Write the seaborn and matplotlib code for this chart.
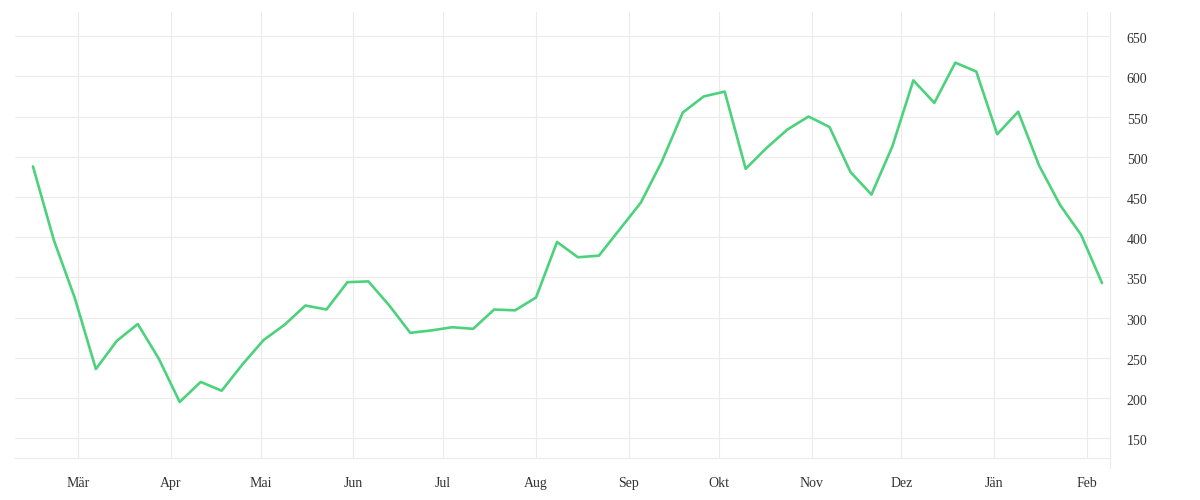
import numpy as np
import pandas as pd
import matplotlib
matplotlib.use("Agg")
import matplotlib.pyplot as plt
import matplotlib.dates as mdates
import matplotlib.transforms as mtrans
from matplotlib.ticker import FuncFormatter
import seaborn as sns

# weekly values
start_date = "2019-02-14"
values = [488, 396, 324, 236, 271, 292, 249, 195, 220, 209,
          242, 272, 291, 315, 310, 344, 345, 315, 281, 284,
          288, 286, 310, 309, 325, 394, 375, 377, 410, 443,
          494, 555, 575, 581, 485, 511, 534, 550, 537, 481,
          453, 513, 595, 567, 617, 606, 528, 556, 489, 440,
          403, 343]
month_names = ["Jän", "Feb", "Mär", "Apr", "Mai", "Jun",
               "Jul", "Aug", "Sep", "Okt", "Nov", "Dez"]
y_ticks = [150, 200, 250, 300, 350, 400, 450, 500, 550, 600, 650]

df = pd.DataFrame({
    "date": pd.date_range(start_date, periods=len(values), freq="7D"),
    "value": values,
})

sns.set_style("white")
plt.rcParams["font.family"] = ["Liberation Serif", "DejaVu Serif"]

grid_col = "#ebebeb"
line_col = "#4cd27c"
text_col = "#333333"

fig = plt.figure(figsize=(12, 5), dpi=100)
ax = fig.add_axes([15 / 1200, 1 - 458.3 / 500, 1095 / 1200, 446.3 / 500])

sns.lineplot(data=df, x="date", y="value", color=line_col, linewidth=1.9, ax=ax)

ax.set_xlim(pd.Timestamp("2019-02-08"), pd.Timestamp("2020-02-08 16:00"))
ax.set_ylim(125, 680)

ax.xaxis.set_major_locator(mdates.MonthLocator())
ax.xaxis.set_major_formatter(FuncFormatter(
    lambda v, pos: month_names[mdates.num2date(v).month - 1]))
ax.set_yticks(y_ticks)
ax.yaxis.tick_right()

ax.grid(True, color=grid_col, linewidth=0.8)
ax.tick_params(axis="x", length=7.2, width=0.8, color=grid_col, pad=6.5,
               labelsize=10, labelcolor=text_col)
ax.tick_params(axis="y", length=0, pad=12, labelsize=10, labelcolor=text_col)
# labels sit a touch below their grid lines
shift = mtrans.ScaledTranslation(0, -2 / 100, fig.dpi_scale_trans)
for lbl in ax.get_yticklabels():
    lbl.set_horizontalalignment("left")
    lbl.set_transform(lbl.get_transform() + shift)

for side in ["top", "left", "right"]:
    ax.spines[side].set_visible(False)
ax.spines["bottom"].set_color(grid_col)
ax.spines["bottom"].set_linewidth(0.8)
ax.axvline(ax.get_xlim()[1], ymin=-10 / 446.3, ymax=1, color=grid_col,
           linewidth=0.8, clip_on=False)

ax.set_xlabel("")
ax.set_ylabel("")

fig.savefig("out.png", dpi=100)
